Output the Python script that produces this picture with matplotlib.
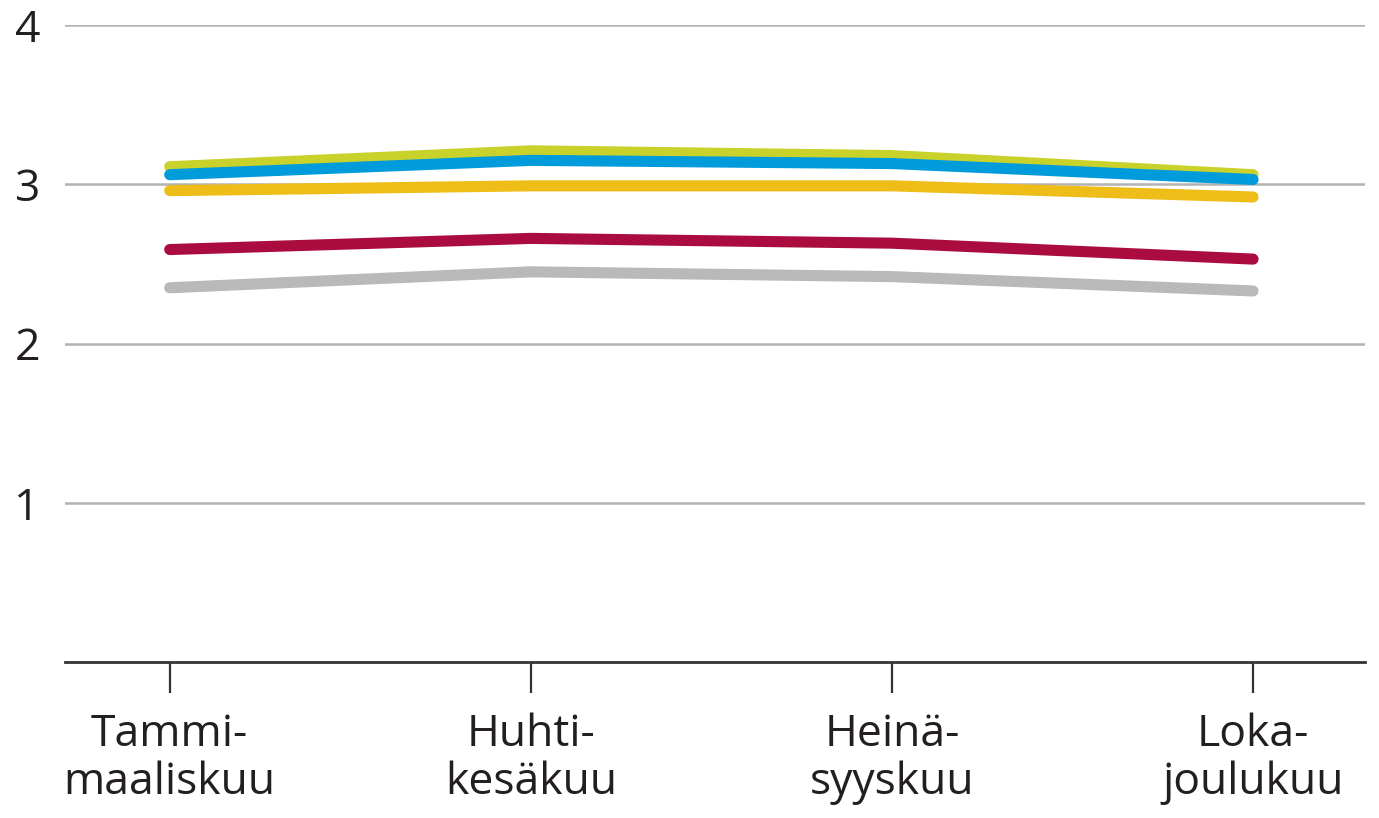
import matplotlib
matplotlib.use("Agg")
import matplotlib.pyplot as plt

categories = ["Tammi-\nmaaliskuu", "Huhti-\nkesäkuu", "Heinä-\nsyyskuu", "Loka-\njoulukuu"]
series_gray = [2.35, 2.45, 2.42, 2.33]
series_crimson = [2.59, 2.66, 2.63, 2.53]
series_yellow = [2.96, 2.99, 2.99, 2.92]
series_olive = [3.11, 3.21, 3.18, 3.06]
series_blue = [3.06, 3.15, 3.13, 3.03]
yticks = [1, 2, 3, 4]

series = [
    (series_gray, "#b9b9b9"),
    (series_crimson, "#ab0c3f"),
    (series_yellow, "#efbd18"),
    (series_olive, "#c9d22b"),
    (series_blue, "#009bdb"),
]

plt.rcParams['font.family'] = ['Open Sans', 'DejaVu Sans']

fig = plt.figure(figsize=(13.79, 8.18), dpi=100)
ax = fig.add_axes([65/1379, 1 - 662/818, 1300/1379, (662-25)/818])

x = list(range(len(categories)))
for vals, col in series:
    ax.plot(x, vals, color=col, lw=8, solid_capstyle='round', solid_joinstyle='round', zorder=3)

ax.set_ylim(0, 4)
ax.set_xlim(-0.29, 3.31)
ax.set_yticks(yticks)
ax.set_yticklabels([str(v) for v in yticks])
ax.set_xticks(x)
ax.set_xticklabels(categories, linespacing=1.12)

ax.grid(axis='y', color='#b3b3b3', lw=1.8, zorder=1)
ax.grid(axis='x', visible=False)
for s in ['top', 'right', 'left']:
    ax.spines[s].set_visible(False)
ax.spines['bottom'].set_color('#333333')
ax.spines['bottom'].set_linewidth(2)
ax.spines['bottom'].set_zorder(4)

ax.tick_params(axis='y', length=0, pad=18, labelsize=32, labelcolor='#231f20')
ax.tick_params(axis='x', length=22, width=1.6, color='#333333', pad=14, labelsize=32, labelcolor='#231f20')

fig.savefig("out.png", dpi=100)
